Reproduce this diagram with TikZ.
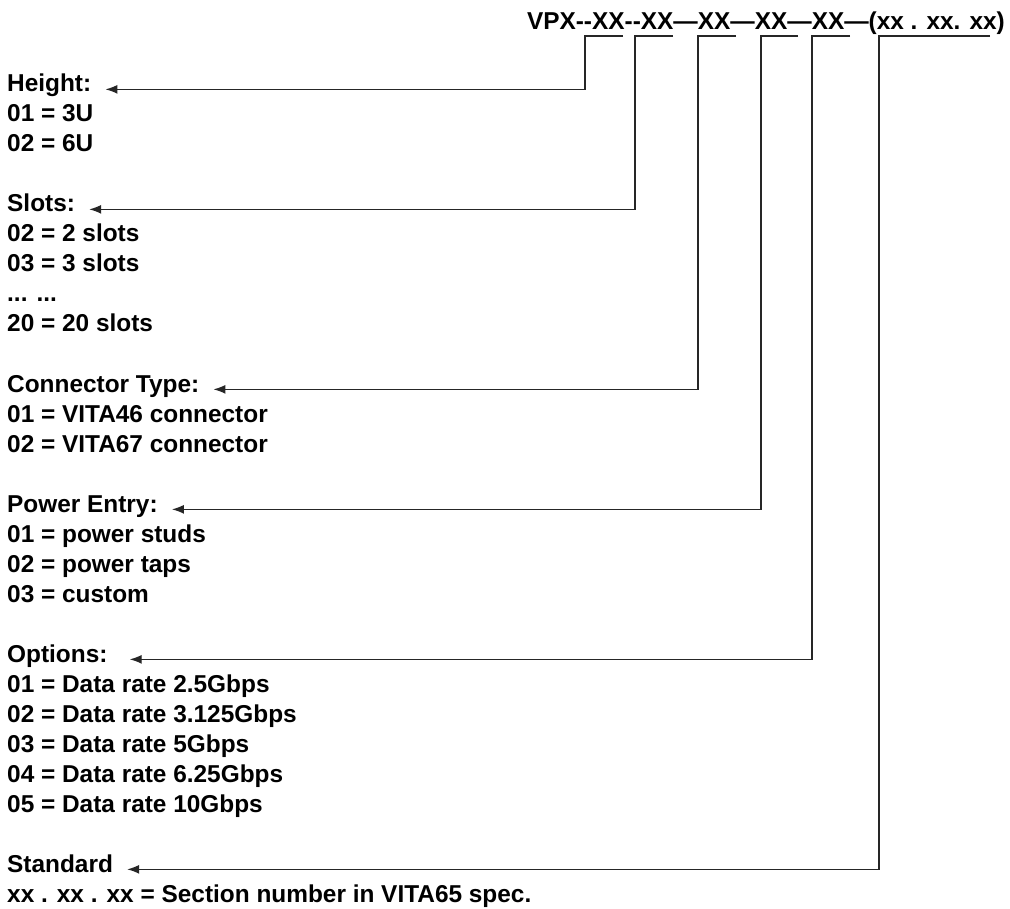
\documentclass[tikz,border=0pt]{standalone}
\usepackage{fontspec}
\setmainfont{Liberation Sans}
\usetikzlibrary{arrows.meta}

\begin{document}
\begin{tikzpicture}[x=1pt,y=-1pt,font=\fontsize{24.4}{30}\selectfont\bfseries,
  txt/.style={anchor=base west,inner sep=0pt},
  lead/.style={line width=1.3pt,draw=black!85,-{Latex[length=12pt,width=9pt]},shorten >=14pt}]
\useasboundingbox (0,0) rectangle (1010,909);
% part number
\node[anchor=base east,inner sep=0pt] (pn) at (1005,30) {VPX-{}-XX-{}-XX—XX—XX—XX—(xx . xx. xx)};
% field underlines
\foreach \n/\a/\b in {hgt/585/623,slt/635/673,con/698/736,pwr/761/798,opt/812/850,std/879/990}
  {\coordinate (\n-l) at (\a,36); \coordinate (\n-r) at (\b,36);}
% height block
\node[txt] (hgt) at (7,92) {Height:};
\foreach \t [count=\i] in {01 = 3U,02 = 6U}
  \node[txt] (hgt-\i) at (7,92+30*\i) {\t};
% slots block
\node[txt] (slt) at (7,212) {Slots:};
\node[txt] (slt-1) at (7,242) {02 = 2 slots};
\node[txt] (slt-2) at (7,272) {03 = 3 slots};
\node[txt] (slt-3) at (7,302) {... ...};
\node[txt] (slt-4) at (7,332) {20 = 20 slots};
% connector block
\node[txt] (con) at (7,392) {Connector Type:};
\foreach \t [count=\i] in {01 = VITA46 connector,02 = VITA67 connector}
  \node[txt] (con-\i) at (7,392+30*\i) {\t};
% power block
\node[txt] (pwr) at (7,512) {Power Entry:};
\foreach \t [count=\i] in {01 = power studs,02 = power taps,03 = custom}
  \node[txt] (pwr-\i) at (7,512+30*\i) {\t};
% options block
\node[txt] (opt) at (7,662) {Options:};
\foreach \t [count=\i] in {01 = Data rate 2.5Gbps,02 = Data rate 3.125Gbps,03 = Data rate 5Gbps,04 = Data rate 6.25Gbps,05 = Data rate 10Gbps}
  \node[txt] (opt-\i) at (7,662+30*\i) {\t};
% standard block
\node[txt] (std) at (7,872) {Standard};
\node[txt] (std-1) at (7,902) {xx . xx . xx = Section number in VITA65 spec.};
% leaders
\foreach \n in {hgt,slt,con,pwr,std}
  \draw[lead] (\n-r) -- (\n-l) |- (\n.mid east);
\draw[lead,shorten >=22pt] (opt-r) -- (opt-l) |- (opt.mid east);
\end{tikzpicture}
\end{document}
